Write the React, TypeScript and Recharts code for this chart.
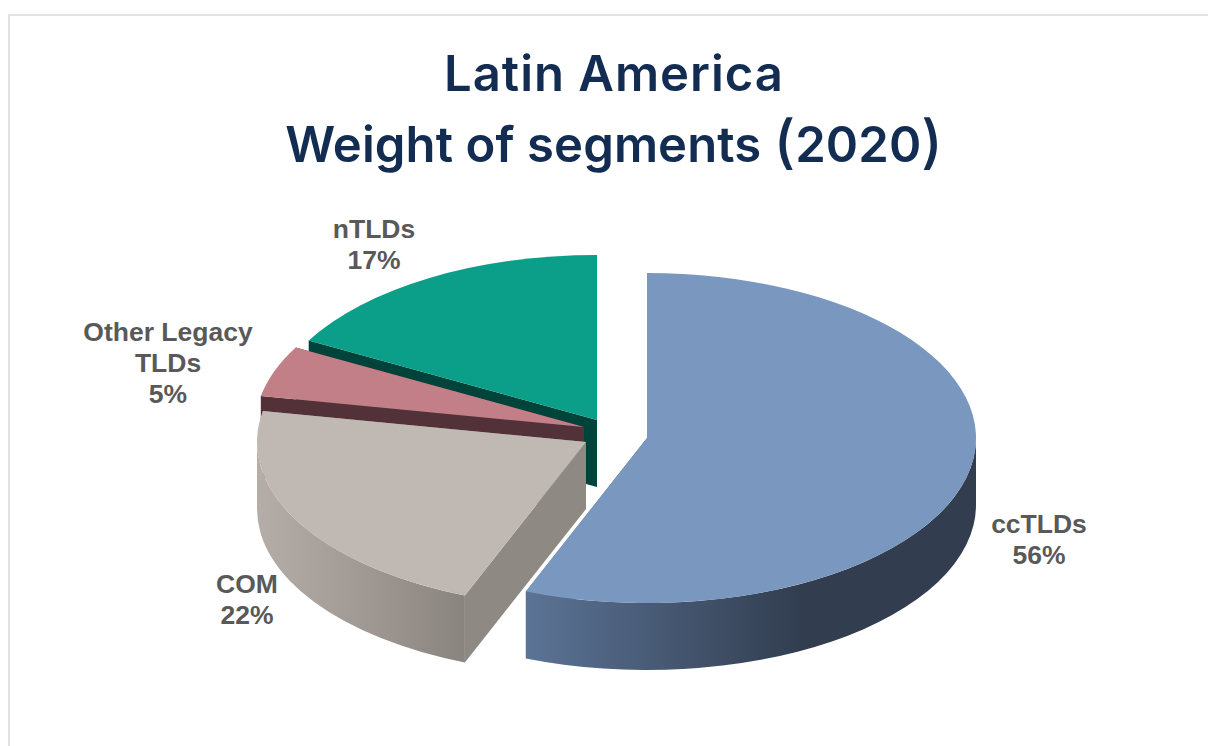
import { Pie, PieChart } from "recharts";

// Listed back to front, so each slice paints over the one behind it.
const segments = ["nTLDs", "Other Legacy TLDs", "COM", "ccTLDs"];
const shares = [17, 5, 22, 56];

const data = segments.map((name, i) => ({ name, value: shares[i] }));

const labelLines = [["nTLDs"], ["Other Legacy", "TLDs"], ["COM"], ["ccTLDs"]];

const topColors = ["#0b9e88", "#c27f87", "#c0b8b2", "#7a98bf"];
const cutColors = ["#00433a", "#523238", "#8e8983", "#55698a"];
const wallStops = [
  ["#00433a", "#00433a"],
  ["#523238", "#523238"],
  ["#b5ada8", "#8a847f"],
  ["#5b7395", "#323e50"],
];
const wallSpans = [
  [0, 1],
  [0, 1],
  [256, 467],
  [528, 800],
];

// how far each slice is pulled away from the pie centre
const explode = [
  [-13, -12],
  [-26, -5],
  [-24, 10],
  [37, 6],
];

const labelSpots = [
  [374, 231],
  [168, 334],
  [247, 586],
  [1039, 526],
];

const CX = 610;
const CY = 432;
const RX = 329;
const RY = 165;
const DEPTH = 67;
const LABEL_LEADING = 31;

function Slice3D(props: any) {
  const { cx, cy, outerRadius, startAngle, endAngle, index } = props;
  const ax = cx + explode[index][0];
  const ay = cy + explode[index][1];
  const ry = (outerRadius * RY) / RX;

  const at = (deg: number) => {
    const r = (deg * Math.PI) / 180;
    return [ax + outerRadius * Math.cos(r), ay - ry * Math.sin(r)];
  };
  const arc = (from: number, to: number, sweep: number, dy: number) => {
    const [x, y] = at(to);
    const large = Math.abs(to - from) > 180 ? 1 : 0;
    return `A ${outerRadius} ${ry} 0 ${large} ${sweep} ${x} ${y + dy}`;
  };
  const cutFace = (deg: number) => {
    const [x, y] = at(deg);
    return `M ${ax} ${ay} L ${x} ${y} L ${x} ${y + DEPTH} L ${ax} ${ay + DEPTH} Z`;
  };

  const [sx, sy] = at(startAngle);
  const top = `M ${ax} ${ay} L ${sx} ${sy} ${arc(startAngle, endAngle, 0, 0)} Z`;

  // only the part of the rim below the horizontal faces the viewer
  const lo = Math.max(startAngle, 180);
  const hi = Math.min(endAngle, 360);
  let wall = "";
  if (lo < hi) {
    const [lx, ly] = at(lo);
    const [hx, hy] = at(hi);
    wall = `M ${lx} ${ly} ${arc(lo, hi, 0, 0)} L ${hx} ${hy + DEPTH} ${arc(hi, lo, 1, DEPTH)} Z`;
  }

  const gradId = `wall-${index}`;
  return (
    <g>
      <defs>
        <linearGradient
          id={gradId}
          gradientUnits="userSpaceOnUse"
          x1={wallSpans[index][0]}
          x2={wallSpans[index][1]}
          y1={0}
          y2={0}
        >
          <stop offset="0%" stopColor={wallStops[index][0]} />
          <stop offset="100%" stopColor={wallStops[index][1]} />
        </linearGradient>
      </defs>
      <path d={cutFace(startAngle)} fill={cutColors[index]} />
      <path d={cutFace(endAngle)} fill={cutColors[index]} />
      {wall && <path d={wall} fill={`url(#${gradId})`} />}
      <path d={top} fill={topColors[index]} />
    </g>
  );
}

function SliceLabel(props: any) {
  const { index, value } = props;
  const [x, y] = labelSpots[index];
  const lines = [...labelLines[index], `${value}%`];
  return (
    <text
      x={x}
      textAnchor="middle"
      fontFamily="'Liberation Sans', Arial, sans-serif"
      fontWeight={700}
      fontSize={26.5}
      fill="#595959"
    >
      {lines.map((line, i) => (
        <tspan key={line} x={x} y={y + i * LABEL_LEADING} dominantBaseline="middle">
          {line}
        </tspan>
      ))}
    </text>
  );
}

const titleStyle: React.CSSProperties = {
  position: "absolute",
  left: 0,
  width: 1228,
  textAlign: "center",
  fontFamily: "Inter, sans-serif",
  fontWeight: 600,
  fontSize: 49,
  lineHeight: "70px",
  color: "#132c52",
  whiteSpace: "nowrap",
};

const parenStyle: React.CSSProperties = { fontSize: 58, fontWeight: 500, lineHeight: "40px" };

export default function App() {
  return (
    <div
      style={{
        position: "absolute",
        left: 0,
        top: 0,
        width: 1208,
        height: 746,
        overflow: "hidden",
        background: "#fff",
      }}
    >
      <div
        style={{
          position: "absolute",
          left: 8,
          top: 14,
          width: 1300,
          height: 800,
          border: "2px solid #e2e2e2",
        }}
      />
      <div style={{ ...titleStyle, top: 39, letterSpacing: 1 }}>Latin America</div>
      <div style={{ ...titleStyle, top: 110, letterSpacing: 0.1 }}>
        Weight of segments <span style={parenStyle}>(</span>2020<span style={parenStyle}>)</span>
      </div>
      <div style={{ position: "absolute", left: 0, top: 0 }}>
        <PieChart width={1208} height={746} margin={{ top: 0, right: 0, bottom: 0, left: 0 }}>
          <Pie
            data={data}
            dataKey="value"
            nameKey="name"
            cx={CX}
            cy={CY}
            innerRadius={0}
            outerRadius={RX}
            startAngle={90}
            endAngle={450}
            paddingAngle={0}
            stroke="none"
            shape={Slice3D}
            label={SliceLabel}
            labelLine={false}
            isAnimationActive={false}
          />
        </PieChart>
      </div>
    </div>
  );
}
